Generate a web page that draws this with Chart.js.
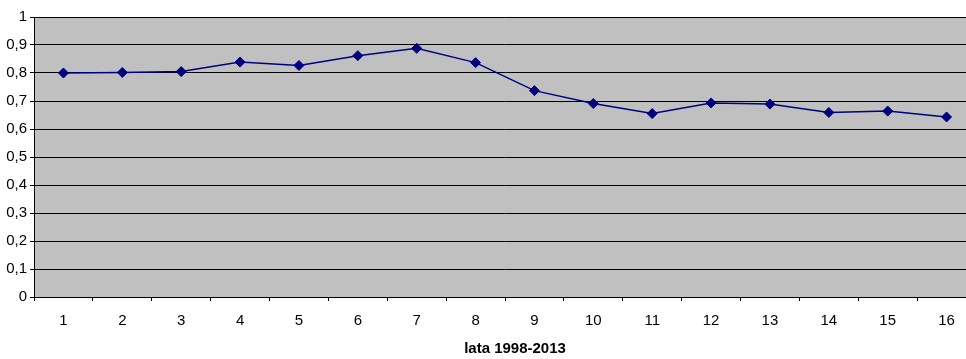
<!DOCTYPE html>
<html>
<head>
<meta charset="utf-8">
<script src="https://cdn.jsdelivr.net/npm/chart.js@4/dist/chart.umd.min.js"></script>
<style>
  html, body { margin: 0; padding: 0; background: #fff; overflow: hidden; }
  #wrap { width: 966px; height: 359px; overflow: hidden; }
</style>
</head>
<body>
<div id="wrap"><canvas id="yearsChart" width="982" height="359"></canvas></div>
<script>
const categories = ['1', '2', '3', '4', '5', '6', '7', '8', '9', '10', '11', '12', '13', '14', '15', '16'];
const seriesValues = [0.800, 0.802, 0.805, 0.839, 0.827, 0.862, 0.888, 0.837, 0.737, 0.691, 0.655, 0.693, 0.689, 0.659, 0.664, 0.643];
const axisTitle = 'lata 1998-2013';

// grey plot area like the original spreadsheet chart
const plotBackground = {
    id: 'plotBackground',
    beforeDraw(chart) {
        const a = chart.chartArea;
        const ctx = chart.ctx;
        ctx.save();
        ctx.fillStyle = '#c0c0c0';
        ctx.fillRect(a.left, a.top, a.right - a.left, a.bottom - a.top);
        ctx.restore();
    }
};

// axis title sits centred on the visible page, not on the (wider) scale
const bottomTitle = {
    id: 'bottomTitle',
    afterDraw(chart) {
        const ctx = chart.ctx;
        ctx.save();
        ctx.font = 'bold 15px "Liberation Sans", Arial, sans-serif';
        ctx.fillStyle = '#000';
        ctx.textAlign = 'center';
        ctx.textBaseline = 'alphabetic';
        ctx.fillText(axisTitle, 515, 353);
        ctx.restore();
    }
};

document.addEventListener('DOMContentLoaded', function () {
    const canvas = document.getElementById('yearsChart');
    const ctx = canvas.getContext('2d');

    // the plot runs past the right edge of the window in the original,
    // so the canvas is a bit wider than the page and gets clipped
    new Chart(ctx, {
        type: 'line',
        data: {
            labels: categories,
            datasets: [{
                data: seriesValues,
                borderColor: '#000080',
                backgroundColor: '#000080',
                borderWidth: 1.5,
                pointStyle: 'rectRot',
                pointRadius: 5,
                pointBorderWidth: 1,
                tension: 0,
                fill: false
            }]
        },
        options: {
            responsive: false,
            animation: false,
            layout: { padding: { top: 17, right: 1, bottom: 0, left: 0 } },
            plugins: {
                legend: { display: false },
                tooltip: { enabled: false }
            },
            scales: {
                x: {
                    offset: true,
                    grid: {
                        offset: true,
                        drawOnChartArea: false,
                        color: '#000',
                        tickColor: '#000',
                        tickLength: 4
                    },
                    border: { color: '#000', width: 1 },
                    ticks: {
                        color: '#000',
                        padding: 11,
                        maxRotation: 0,
                        font: { family: 'Liberation Sans, Arial, sans-serif', size: 15 }
                    },
                    afterFit: function (scale) { scale.height = 62; }
                },
                y: {
                    min: 0,
                    max: 1,
                    grid: {
                        color: '#000',
                        tickColor: '#000',
                        tickLength: 4
                    },
                    border: { color: '#000', width: 1 },
                    ticks: {
                        stepSize: 0.1,
                        color: '#000',
                        padding: 3,
                        font: { family: 'Liberation Sans, Arial, sans-serif', size: 15 },
                        callback: function (v) {
                            if (v === 0 || v === 1) return String(v);
                            return v.toFixed(1).replace('.', ',');
                        }
                    },
                    afterFit: function (scale) { scale.width = 34; }
                }
            }
        },
        plugins: [plotBackground, bottomTitle]
    });
});
</script>
</body>
</html>
